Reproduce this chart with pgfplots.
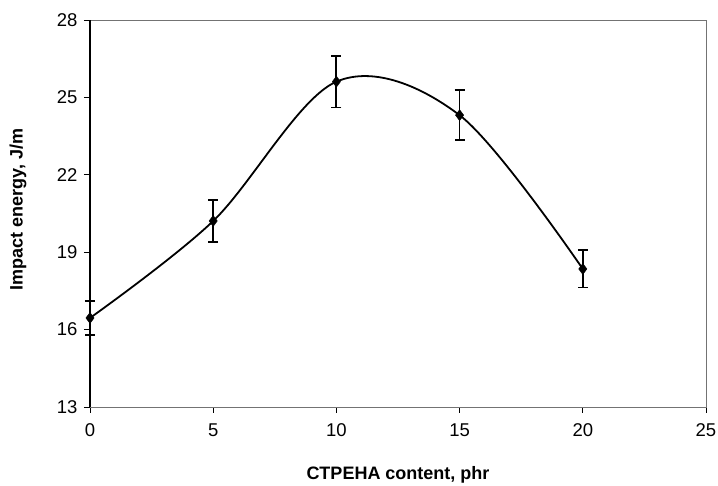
\documentclass[border=0pt]{standalone}
\usepackage{fontspec}
\setmainfont{Liberation Sans}
\usepackage{pgfplots}
\pgfplotsset{compat=1.18}
\begin{document}
\begin{tikzpicture}
\path[use as bounding box] (-90pt,-79pt) rectangle (628pt,407pt);
\begin{axis}[
  at={(0,0)}, anchor=south west,
  scale only axis,
  width=616pt, height=387pt,
  xmin=0, xmax=25, ymin=13, ymax=28,
  xtick={0,5,10,15,20,25},
  ytick={13,16,19,22,25,28},
  tick align=outside,
  tick pos=left,
  major tick length=6pt,
  tick style={black, line width=0.9pt},
  axis line style={black!55, line width=0.9pt},
  /pgf/number format/assume math mode=true,
  ticklabel style={font=\fontsize{18.5}{21}\selectfont},
  xticklabel style={yshift=-7pt},
  yticklabel style={xshift=-3pt},
  xlabel={\bfseries CTPEHA content, phr},
  ylabel={\bfseries Impact energy, J/m},
  xlabel style={font=\fontsize{18}{21}\selectfont, at={(rel axis cs:0.5,0)}, anchor=center, yshift=-68pt},
  ylabel style={font=\fontsize{18}{21}\selectfont, at={(rel axis cs:0,0.51)}, anchor=center, yshift=72pt},
  clip=false,
]
\draw[black, line width=1.1pt] (rel axis cs:0,0) -- (rel axis cs:0,1);
\addplot[black, line width=1.8pt, smooth, tension=0.55] coordinates {
  (0,16.45) (5,20.21) (10,25.61) (15,24.31) (20,18.35)
};
\addplot[black, only marks, mark=diamond*, mark size=5.5pt,
  error bars/.cd, y dir=both, y explicit,
  error bar style={line width=1.8pt},
  error mark options={rotate=90, mark size=5pt, line width=1.8pt}]
  coordinates {
  (0,16.45) +- (0,0.65)
  (5,20.21) +- (0,0.8)
  (10,25.61) +- (0,1.0)
  (15,24.31) +- (0,0.97)
  (20,18.35) +- (0,0.72)
};
\end{axis}
\end{tikzpicture}
\end{document}
